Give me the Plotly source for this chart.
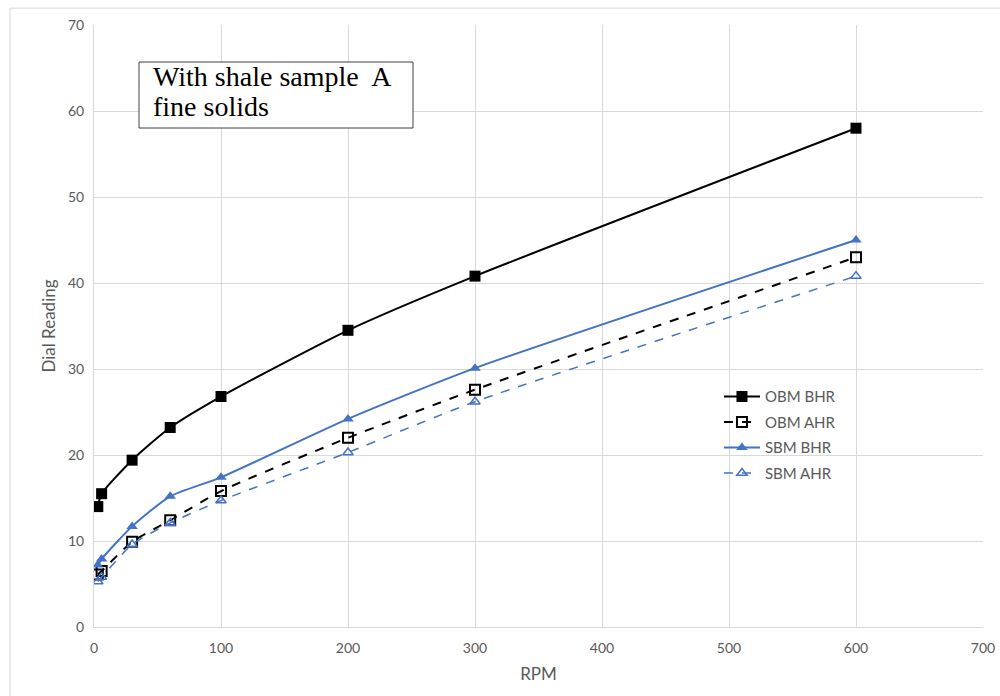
import plotly.graph_objects as go

rpm = [3, 6, 30, 60, 100, 200, 300, 600]
obm_bhr = [14.0, 15.5, 19.4, 23.2, 26.8, 34.5, 40.8, 58.0]
obm_ahr = [6.1, 6.5, 9.9, 12.4, 15.8, 22.0, 27.6, 43.0]
sbm_bhr = [7.2, 7.9, 11.7, 15.2, 17.4, 24.2, 30.1, 45.0]
sbm_ahr = [5.3, 5.8, 9.6, 12.1, 14.7, 20.3, 26.2, 40.8]

x_ticks = [0, 100, 200, 300, 400, 500, 600, 700]
y_ticks = [0, 10, 20, 30, 40, 50, 60, 70]

BLUE = "#4472C4"
GRAY = "#595959"
GRID = "#d9d9d9"
FONT = "Lato, 'Open Sans', sans-serif"
SERIF = "'Liberation Serif', 'Times New Roman', serif"

fig = go.Figure()
fig.add_trace(go.Scatter(x=rpm, y=obm_bhr, name="OBM BHR", mode="lines+markers", legendgroup="a",
                         line=dict(color="black", width=2, shape="spline", smoothing=0.6),
                         marker=dict(symbol="square", size=11, color="black")))
fig.add_trace(go.Scatter(x=rpm, y=obm_ahr, name="OBM AHR", mode="lines+markers", legendgroup="b",
                         line=dict(color="black", width=2, dash="dash", shape="spline", smoothing=0.6),
                         marker=dict(symbol="square-open", size=10, color="black", line=dict(width=2, color="black"))))
fig.add_trace(go.Scatter(x=rpm, y=sbm_bhr, name="SBM BHR", mode="lines+markers", legendgroup="c",
                         line=dict(color=BLUE, width=2, shape="spline", smoothing=0.6),
                         marker=dict(symbol="triangle-up", size=10, color=BLUE)))
fig.add_trace(go.Scatter(x=rpm, y=sbm_ahr, name="SBM AHR", mode="lines+markers", legendgroup="d",
                         line=dict(color=BLUE, width=1.5, dash="dash", shape="spline", smoothing=0.6),
                         marker=dict(symbol="triangle-up-open", size=9, color=BLUE, line=dict(width=1.5, color=BLUE))))

fig.update_layout(
    width=1000, height=696,
    margin=dict(l=94, r=17, t=25, b=69),
    paper_bgcolor="white", plot_bgcolor="white",
    font=dict(family=FONT, color=GRAY, size=14),
    showlegend=True,
    legend=dict(x=0.703, y=0.41, xanchor="left", yanchor="top",
                bgcolor="rgba(0,0,0,0)", font=dict(size=15, color=GRAY),
                tracegroupgap=3, itemwidth=36),
    xaxis=dict(range=[0, 700], tickvals=x_ticks, showgrid=True, gridcolor=GRID, gridwidth=1,
               showline=True, linecolor=GRID, linewidth=1, zeroline=False, ticks="",
               automargin=False, ticklabelstandoff=8,
               title=dict(text="RPM", font=dict(size=17, color=GRAY), standoff=13),
               tickfont=dict(size=14, color=GRAY)),
    yaxis=dict(range=[0, 70], tickvals=y_ticks, showgrid=True, gridcolor=GRID, gridwidth=1,
               showline=True, linecolor=GRID, linewidth=1, zeroline=False, ticks="",
               automargin=False, ticklabelstandoff=6,
               title=dict(text="Dial Reading", font=dict(size=17, color=GRAY), standoff=8),
               tickfont=dict(size=14, color=GRAY)),
    shapes=[dict(type="rect", xref="paper", yref="paper", x0=-0.0945, x1=1.05, y0=-0.2, y1=1.028,
                 line=dict(color=GRID, width=1), fillcolor="rgba(0,0,0,0)", layer="below"),
            dict(type="rect", xref="paper", yref="paper",
                 x0=(139 - 94) / 889, x1=(413 - 94) / 889, y0=(627 - 128) / 602, y1=(627 - 62) / 602,
                 line=dict(color="#404040", width=1), fillcolor="white", layer="above")],
    annotations=[dict(xref="paper", yref="paper", x=(151 - 94) / 889, y=(627 - 76) / 602,
                      xanchor="left", yanchor="middle", text="With shale sample  A", showarrow=False,
                      font=dict(family=SERIF, size=28, color="black")),
                 dict(xref="paper", yref="paper", x=(151 - 94) / 889, y=(627 - 106) / 602,
                      xanchor="left", yanchor="middle", text="fine solids", showarrow=False,
                      font=dict(family=SERIF, size=28, color="black"))],
)

fig.write_html("out.html")
